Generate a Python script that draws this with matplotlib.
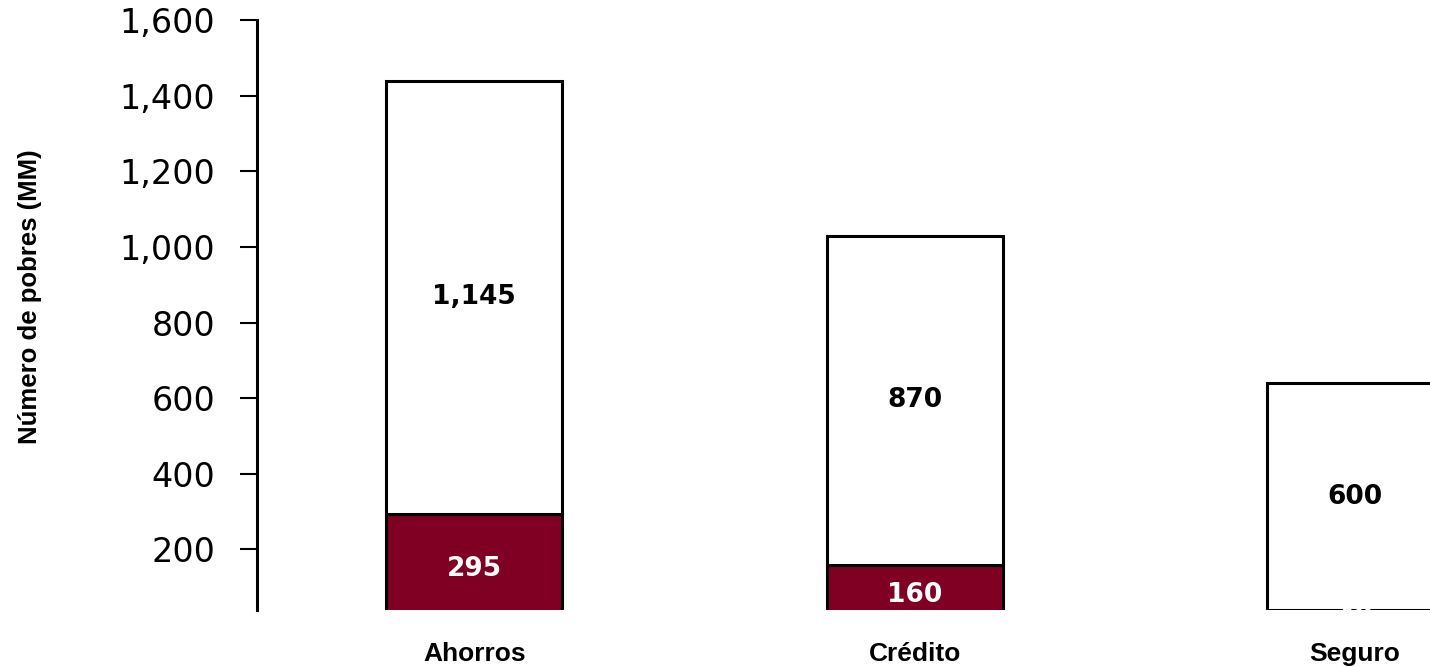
import matplotlib
matplotlib.use("Agg")
import matplotlib.pyplot as plt
import numpy as np
from matplotlib.ticker import FuncFormatter

# Poor people reached by each product (millions)
categories = ["Ahorros", "Crédito", "Seguro"]
served = [295, 160, 40]
unserved = [1145, 870, 600]

dark_red = "#7f0022"

fig = plt.figure(figsize=(14.3, 6.67), dpi=100)
ax = fig.add_axes([257 / 1430, 1 - 610 / 667, 1 - 257 / 1430, (610 - 20) / 667])

x = np.arange(len(categories))
w = 0.4
ax.bar(x, served, w, color=dark_red, edgecolor="black", linewidth=2.2)
ax.bar(x, unserved, w, bottom=served, color="white", edgecolor="black", linewidth=2.2)

ax.set_xlim(-0.493, 2.17)
ax.set_ylim(40, 1600)

# segment labels
for i in range(len(categories)):
    t1 = ax.text(x[i], served[i] / 2, f"{served[i]:,}", ha="center", va="center",
                 color="white", fontsize=19, fontweight="bold", family="DejaVu Sans")
    t1.set_clip_box(ax.bbox)
    t2 = ax.text(x[i], served[i] + unserved[i] / 2, f"{unserved[i]:,}", ha="center",
                 va="center", color="black", fontsize=19, fontweight="bold",
                 family="DejaVu Sans")
    t2.set_clip_box(ax.bbox)

ax.set_yticks(np.arange(200, 1601, 200))
ax.yaxis.set_major_formatter(FuncFormatter(lambda v, p: f"{int(v):,}"))
ax.tick_params(axis="y", direction="out", length=12, width=1.5, pad=18, labelsize=24)
for lab in ax.get_yticklabels():
    lab.set_family("DejaVu Sans")

ax.set_xticks(x)
ax.set_xticklabels(categories, fontsize=19, fontweight="bold", family="Liberation Sans")
ax.tick_params(axis="x", length=0, pad=23)

for s in ["top", "right", "bottom"]:
    ax.spines[s].set_visible(False)
ax.spines["left"].set_linewidth(2.2)

fig.text(30 / 1430, 1 - 297 / 667, "Número de pobres (MM)", rotation=90,
         ha="center", va="center", fontsize=18.5, fontweight="bold",
         family="Liberation Sans")

fig.savefig("out.png", dpi=100)
